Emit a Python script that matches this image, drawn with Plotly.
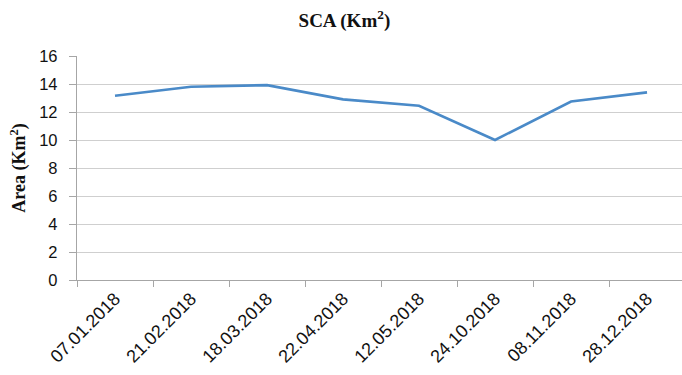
import plotly.graph_objects as go

# Snow-covered area per acquisition date
dates = ["07.01.2018", "21.02.2018", "18.03.2018", "22.04.2018",
         "12.05.2018", "24.10.2018", "08.11.2018", "28.12.2018"]
area_km2 = [13.16, 13.8, 13.92, 12.9, 12.45, 10.0, 12.75, 13.4]
y_ticks = [0, 2, 4, 6, 8, 10, 12, 14, 16]

fig = go.Figure(
    go.Scatter(
        x=dates,
        y=area_km2,
        mode="lines",
        line=dict(color="#4a8ac8", width=2.6),
        showlegend=False,
    )
)

fig.update_layout(
    width=682,
    height=375,
    margin=dict(l=77, r=0, t=56, b=95),
    paper_bgcolor="white",
    plot_bgcolor="white",
    title=dict(
        text="SCA (Km<sup>2</sup>)",
        x=0.505,
        xanchor="center",
        y=0.945,
        yanchor="middle",
        font=dict(family="Liberation Serif", size=19, color="#111111", weight="bold"),
    ),
)

fig.update_xaxes(
    type="category",
    range=[-0.5, 7.46],
    tickson="boundaries",
    ticks="outside",
    ticklen=6,
    tickcolor="#a6a6a6",
    showline=True,
    linecolor="#a6a6a6",
    linewidth=1.3,
    showgrid=False,
    tickangle=-45,
    tickfont=dict(family="Liberation Sans", size=18, color="#111111"),
)

fig.update_yaxes(
    range=[0, 16],
    tickvals=y_ticks,
    ticks="outside",
    ticklen=7,
    tickcolor="#a6a6a6",
    showline=True,
    linecolor="#a6a6a6",
    linewidth=1.3,
    showgrid=True,
    gridcolor="#cfcfcf",
    gridwidth=1.3,
    zeroline=False,
    ticklabelstandoff=8,
    tickfont=dict(family="Liberation Sans", size=16.5, color="#111111"),
    title=dict(
        text="Area (Km<sup>2</sup>)",
        standoff=8,
        font=dict(family="Liberation Serif", size=18, color="#111111", weight="bold"),
    ),
)

fig.write_html("out.html")
